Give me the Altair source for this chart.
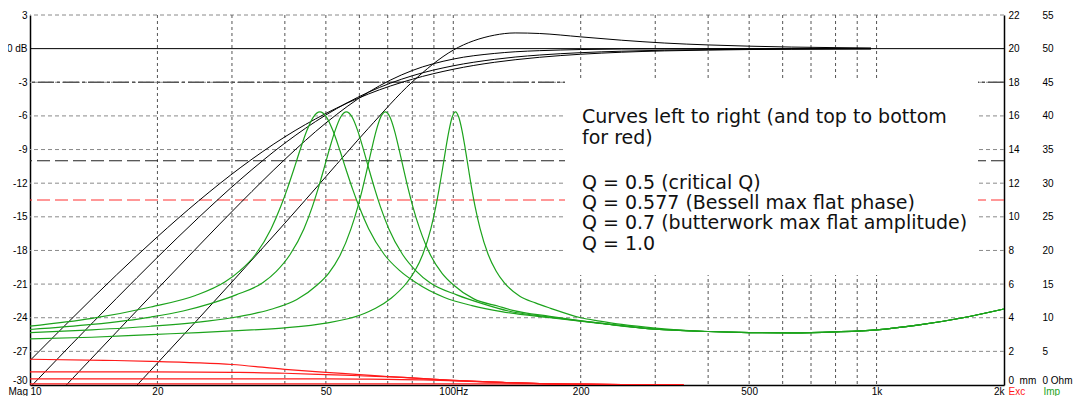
import altair as alt
import pandas as pd

# ---------------- axes / grid values ----------------
x_ticks = [10, 20, 50, 100, 200, 500, 1000, 2000]
x_labels = ["10", "20", "50", "100Hz", "200", "500", "1k", "2k"]
v_grid = [20, 30, 40, 50, 60, 70, 80, 90, 100, 200, 300, 400, 500, 600, 700, 800, 900, 1000]
h_grid = [3, -3, -6, -9, -12, -15, -18, -21, -24, -27]
db_ticks = [3, 0, -3, -6, -9, -12, -15, -18, -21, -24, -27, -30]
exc_ticks = [0, 2, 4, 6, 8, 10, 12, 14, 16, 18, 20, 22]
imp_ticks = [0, 5, 10, 15, 20, 25, 30, 35, 40, 45, 50, 55]
ref_solid_db = [0]
ref_dashdot_db = [-3]
ref_dash_db = [-10]
xmax_mm = [11]

# ---------------- frequency response (dB) ----------------
freq_black = [10, 12.5, 16, 20, 25, 31.5, 40, 50, 63, 80, 100, 125, 140, 160, 200, 250, 315, 400, 500, 630, 800, 970]
mag_q050 = [-27.82, -24.15, -20.19, -16.78, -13.59, -10.58, -7.87, -5.78, -4.05, -2.73, -1.84, -1.22, -0.99, -0.77,
            -0.50, -0.32, -0.20, -0.13, -0.08, -0.05, -0.03, -0.02]
mag_q0577 = [-30.22, -26.42, -22.28, -18.61, -15.08, -11.63, -8.43, -5.92, -3.89, -2.42, -1.53, -0.96, -0.75, -0.57,
             -0.36, -0.23, -0.14, -0.09, -0.06, -0.035, -0.022, -0.015]
mag_q070 = [-33.44, -29.56, -25.29, -21.43, -17.61, -13.72, -9.88, -6.63, -3.89, -1.95, -0.93, -0.43, -0.28, -0.18,
            -0.08, -0.03, -0.02, -0.01, -0.005, 0.0, 0.0, 0.0]
mag_q100 = [-40.22, -36.32, -31.99, -28.05, -24.09, -19.93, -15.57, -11.42, -7.11, -2.97, -0.13, 1.2, 1.4, 1.35,
            1.05, 0.75, 0.5, 0.33, 0.22, 0.14, 0.09, 0.06]

# ---------------- impedance (Ohm) ----------------
imp_f_a = [10, 14, 19.3, 24.6, 28.85, 31.35, 34.1, 37.13, 39.11, 40.51, 41.97, 43.49, 45.07, 46.7, 48.4,
           50.16, 51.98, 53.87, 55.82, 57.83, 59.9, 63.09, 68.69, 74.73, 81.19, 95.33, 110.7, 130, 169, 222,
           300, 400, 500, 630, 800, 1000, 1250, 1600, 2000]
imp_a = [8.75, 9.9, 11.6, 13.3, 15.3, 17.0, 19.4, 23.24, 26.52, 29.12, 32.0, 35.0, 37.78, 39.83, 40.6,
         39.83, 37.78, 35.0, 32.0, 29.12, 26.52, 23.24, 19.4, 17.0, 15.3, 13.0, 11.8, 10.9, 10.0, 9.15,
         8.3, 7.95, 7.8, 7.75, 7.9, 8.2, 8.9, 10.0, 11.3]
imp_f_b = [10, 14, 19.3, 23, 26.68, 30.68, 35.46, 38.19, 41.16, 44.39, 46.46, 47.9, 49.4, 50.94, 52.55, 54.2,
           55.9, 57.66, 59.47, 61.34, 63.26, 65.24, 67.26, 70.4, 75.91, 81.83, 88.12, 101.9, 117.1, 135, 169,
           222, 300, 400, 500, 630, 800, 1000, 1250, 1600, 2000]
imp_b = [8.25, 9.0, 10.1, 11.0, 12.1, 13.4, 15.2, 16.9, 19.4, 23.24, 26.52, 29.12, 32.0, 35.0, 37.78, 39.83,
         40.6, 39.83, 37.78, 35.0, 32.0, 29.12, 26.52, 23.24, 19.4, 16.9, 15.2, 13.4, 12.1, 11.0, 10.1,
         9.2, 8.3, 7.95, 7.8, 7.75, 7.9, 8.2, 8.9, 10.0, 11.3]
imp_f_c = [10, 14, 19.3, 25, 30, 34.55, 37.34, 42.71, 47.77, 50.75, 53.95, 57.34, 59.51, 61.0, 62.53, 64.11,
           65.73, 67.4, 69.1, 70.85, 72.65, 74.48, 76.36, 78.28, 80.24, 83.28, 88.5, 94.09, 99.95, 111.8,
           127.9, 138.2, 169, 222, 300, 400, 500, 630, 800, 1000, 1250, 1600, 2000]
imp_c = [7.8, 8.2, 8.73, 9.35, 10.0, 10.75, 11.3, 12.7, 14.9, 16.6, 19.2, 23.24, 26.52, 29.12, 32.0, 35.0,
         37.78, 39.83, 40.6, 39.83, 37.78, 35.0, 32.0, 29.12, 26.52, 23.24, 19.2, 16.6, 14.9, 12.8,
         11.7, 11.1, 10.2, 9.2, 8.3, 7.95, 7.8, 7.75, 7.9, 8.2, 8.9, 10.0, 11.3]
imp_f_d = [10, 14, 19.3, 25, 30, 40, 50, 60.33, 65.54, 71.3, 77.63, 81.06, 84.69, 88.52, 90.93, 92.56, 94.23,
           95.92, 97.66, 99.41, 101.2, 103.0, 104.9, 106.8, 108.7, 110.6, 112.6, 115.7, 120.9, 126.3, 131.9,
           143.6, 156.3, 169.8, 200, 222, 250, 300, 400, 500, 630, 800, 1000, 1250, 1600, 2000]
imp_d = [6.85, 7.1, 7.5, 7.8, 8.05, 8.5, 9.2, 10.4, 11.4, 12.9, 15.2, 16.9, 19.4, 23.24, 26.52, 29.12, 32.0,
         35.0, 37.78, 39.83, 40.6, 39.83, 37.78, 35.0, 32.0, 29.12, 26.52, 23.24, 19.4, 16.9, 15.2,
         13.2, 12.2, 11.4, 10.0, 9.5, 9.0, 8.45, 7.95, 7.8, 7.75, 7.9, 8.2, 8.9, 10.0, 11.3]

# ---------------- excursion (mm) ----------------
exc_f = [10, 15, 19.3, 25, 30, 40, 50, 60, 70, 85, 100, 125, 160, 200, 250, 350]
exc_a = [1.53, 1.47, 1.41, 1.32, 1.22, 0.93, 0.75, 0.62, 0.50, 0.38, 0.28, 0.17, 0.08, 0.05, 0.03, 0.01]
exc_b = [0.78, 0.78, 0.78, 0.77, 0.75, 0.70, 0.62, 0.55, 0.50, 0.38, 0.28, 0.17, 0.08, 0.05, 0.03, 0.01]
exc_c = [0.37, 0.37, 0.37, 0.37, 0.37, 0.37, 0.36, 0.35, 0.33, 0.30, 0.25, 0.17, 0.08, 0.05, 0.03, 0.01]
exc_d = [0.07, 0.07, 0.07, 0.07, 0.07, 0.07, 0.07, 0.07, 0.07, 0.07, 0.07, 0.07, 0.06, 0.04, 0.03, 0.01]

note_lines_1 = ["Curves left to right (and top to bottom", "for red)"]
note_lines_2 = ["Q = 0.5 (critical Q)", "Q = 0.577 (Bessell max flat phase)",
                "Q = 0.7 (butterwork max flat amplitude)", "Q = 1.0"]
curve_names = ["Q=0.5", "Q=0.577", "Q=0.7", "Q=1.0"]

# ---------------- tables ----------------
def long_table(fs_list, vals_list, col):
    rows = []
    for name, fs, vs in zip(curve_names, fs_list, vals_list):
        for f, v in zip(fs, vs):
            rows.append({"f": f, col: v, "curve": name})
    return pd.DataFrame(rows)

black_df = long_table([freq_black] * 4, [mag_q050, mag_q0577, mag_q070, mag_q100], "db")
green_df = long_table([imp_f_a, imp_f_b, imp_f_c, imp_f_d], [imp_a, imp_b, imp_c, imp_d], "ohm")
red_df = long_table([exc_f] * 4, [exc_a, exc_b, exc_c, exc_d], "mm")

FONT = "Liberation Sans"
NOTE_FONT = "DejaVu Sans"
GREEN = "#1ca31c"
RED = "#ff1a1a"

xs = alt.Scale(type="log", domain=[10, 2000], nice=False)
ys = alt.Scale(domain=[-30, 3], nice=False, zero=False)
es = alt.Scale(domain=[0, 22], nice=False, zero=False)
ims = alt.Scale(domain=[0, 55], nice=False, zero=False)

x_expr = "".join(f"datum.value == {v} ? '{l}' : " for v, l in zip(x_ticks, x_labels)) + "datum.label"
x_axis = alt.Axis(values=x_ticks, labelExpr=x_expr, ticks=False, grid=False, domain=True, domainColor="#000",
                  domainWidth=1.5, labelFlush=True, labelPadding=1, labelFont=FONT, labelFontSize=10,
                  labelColor="#000", title=None, labelOverlap=False)
xenc = alt.X("f:Q", scale=xs, axis=x_axis)

db_axis = alt.Axis(orient="left", values=db_ticks, labelExpr="datum.value == 0 ? '0 dB' : '' + datum.value",
                   labelBaseline={"condition": {"test": "datum.value == -30", "value": "bottom"}, "value": "middle"},
                   ticks=False, grid=False, domain=True, domainColor="#000", domainWidth=1.5, labelPadding=3,
                   labelFont=FONT, labelFontSize=10, labelColor="#000", labelOverlap=False,
                   title="Mag", titleAngle=0, titleX=-22, titleY=376, titleAlign="left", titleBaseline="middle",
                   titleFont=FONT, titleFontSize=10, titleFontWeight="normal", titleColor="#000")

exc_axis = alt.Axis(orient="right", values=exc_ticks,
                    labelExpr="datum.value == 0 ? '0\u00a0\u00a0mm' : '' + datum.value",
                    labelBaseline={"condition": {"test": "datum.value == 0", "value": "bottom"}, "value": "middle"},
                    ticks=False, grid=False, domain=True, domainColor="#000", domainWidth=1.5, labelPadding=4,
                    labelFont=FONT, labelFontSize=10, labelColor="#000", labelOverlap=False,
                    title="Exc", titleAngle=0, titleX=4, titleY=376, titleAlign="left", titleBaseline="middle",
                    titleFont=FONT, titleFontSize=10, titleFontWeight="normal", titleColor=RED)

imp_axis = alt.Axis(orient="right", offset=35, values=imp_ticks,
                    labelExpr="datum.value == 0 ? '0\u00a0Ohm' : '' + datum.value",
                    labelBaseline={"condition": {"test": "datum.value == 0", "value": "bottom"}, "value": "middle"},
                    ticks=False, grid=False, domain=False, labelPadding=3,
                    labelFont=FONT, labelFontSize=10, labelColor="#000", labelOverlap=False,
                    title="Imp", titleAngle=0, titleX=4, titleY=376, titleAlign="left", titleBaseline="middle",
                    titleFont=FONT, titleFontSize=10, titleFontWeight="normal", titleColor=GREEN)

hgrid = alt.Chart(pd.DataFrame({"v": h_grid})).mark_rule(color="#8a8a8a", strokeDash=[4, 3], strokeWidth=1).encode(
    y=alt.Y("v:Q", scale=ys, axis=None))
vgrid = alt.Chart(pd.DataFrame({"f": v_grid})).mark_rule(color="#555555", strokeDash=[3, 3], strokeWidth=1).encode(
    x=xenc)
line0 = alt.Chart(pd.DataFrame({"v": ref_solid_db})).mark_rule(color="#000", strokeWidth=1).encode(
    y=alt.Y("v:Q", scale=ys, axis=None))
linem3 = alt.Chart(pd.DataFrame({"v": ref_dashdot_db})).mark_rule(color="#555", strokeWidth=1.3,
                                                                 strokeDash=[16, 3, 3, 3]).encode(
    y=alt.Y("v:Q", scale=ys, axis=None))
linem10 = alt.Chart(pd.DataFrame({"v": ref_dash_db})).mark_rule(color="#222", strokeWidth=1,
                                                               strokeDash=[13, 5]).encode(
    y=alt.Y("v:Q", scale=ys, axis=None))
xmaxline = alt.Chart(pd.DataFrame({"mm": xmax_mm})).mark_rule(color="#ff3030", strokeWidth=1,
                                                             strokeDash=[13, 5]).encode(
    y=alt.Y("mm:Q", scale=es, axis=None))

box = alt.Chart(pd.DataFrame({"a": [0]})).mark_rect(color="white", opacity=1).encode(
    x=alt.value(535), x2=alt.value(948), y=alt.value(63), y2=alt.value(260))
note1 = alt.Chart(pd.DataFrame({"a": [0]})).mark_text(align="left", baseline="alphabetic", font=NOTE_FONT,
                                                     fontSize=19, lineHeight=21, color="#111").encode(
    x=alt.value(552), y=alt.value(108), text=alt.value(note_lines_1))
note2 = alt.Chart(pd.DataFrame({"a": [0]})).mark_text(align="left", baseline="alphabetic", font=NOTE_FONT,
                                                     fontSize=19, lineHeight=20.4, color="#111").encode(
    x=alt.value(552), y=alt.value(173.5), text=alt.value(note_lines_2))

black = alt.Chart(black_df).mark_line(color="#000", strokeWidth=1, interpolate="monotone", clip=True).encode(
    x=xenc, y=alt.Y("db:Q", scale=ys, axis=db_axis), detail="curve:N")
green = alt.Chart(green_df).mark_line(color=GREEN, strokeWidth=1.2, interpolate="monotone", clip=True).encode(
    x=xenc, y=alt.Y("ohm:Q", scale=ims, axis=imp_axis), detail="curve:N")
red = alt.Chart(red_df).mark_line(color=RED, strokeWidth=1.2, interpolate="monotone", clip=True).encode(
    x=xenc, y=alt.Y("mm:Q", scale=es, axis=exc_axis), detail="curve:N")

chart = alt.layer(hgrid, vgrid, line0, linem3, linem10, xmaxline, box, note1, note2, black, green, red
                  ).resolve_scale(y="independent").properties(
    width=974, height=370, autosize="none",
    padding={"left": 22, "top": 7, "right": 69, "bottom": 12},
    background="white"
).configure_view(stroke=None)

chart.save("out.html", embed_options={"renderer": "svg", "actions": False})
